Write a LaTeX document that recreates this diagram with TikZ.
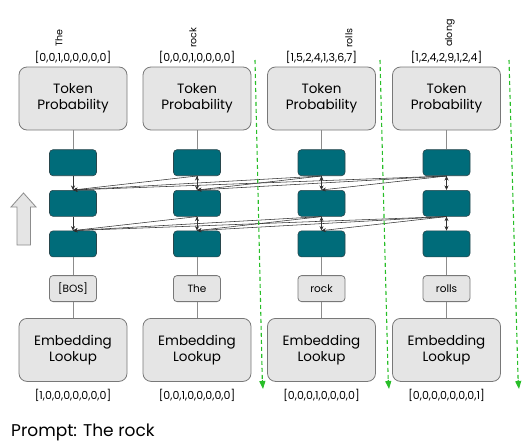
\documentclass[tikz,border=0pt]{standalone}
\usepackage{fontspec}
\setmainfont{Poppins}
\usetikzlibrary{positioning,arrows.meta}
\definecolor{blockfill}{RGB}{0,108,122}
\definecolor{blockline}{RGB}{40,70,76}
\definecolor{boxfill}{RGB}{229,229,229}
\definecolor{boxline}{RGB}{120,120,120}
\definecolor{linkgray}{RGB}{140,140,140}
\definecolor{flowgreen}{RGB}{40,190,40}

\begin{document}
\begin{tikzpicture}[x=1pt,y=-1pt,node distance=14pt,
    bigbox/.style={draw=boxline, fill=boxfill, line width=0.8pt, rounded corners=8pt,
        minimum width=108pt, minimum height=63pt, align=center,
        font=\fontsize{13.5}{16}\selectfont},
    block/.style={draw=blockline, fill=blockfill, line width=0.6pt, rounded corners=3.5pt,
        minimum width=47pt, minimum height=26pt, inner sep=0pt},
    tokbox/.style={draw=boxline, fill=boxfill, line width=0.8pt, rounded corners=3.5pt,
        minimum width=47pt, minimum height=26pt, inner sep=0pt,
        font=\fontsize{10.5}{12}\selectfont},
    vec/.style={inner sep=0pt, font=\fontsize{11}{13}\selectfont},
    word/.style={rotate=90, anchor=west, inner sep=0pt, font=\fontsize{9.5}{11}\selectfont},
    link/.style={draw=linkgray, line width=0.8pt},
    attn/.style={draw=black!80, line width=0.55pt, -{Stealth[length=4.5pt,width=4pt]}},
    flow/.style={draw=flowgreen, line width=1.1pt, dash pattern=on 4pt off 3pt},
    flowtip/.style={draw=flowgreen, fill=flowgreen, line width=1.1pt, solid,
        -{Triangle[length=8pt,width=6pt]}},
    prompt/.style={inner sep=0pt, anchor=west, font=\fontsize{17}{20}\selectfont}]

    \useasboundingbox (0,0) rectangle (532,442);

    % columns
    \node (prob1) [bigbox] at (73,98.5) {Token\\Probability};
    \node (prob2) [bigbox] at (197,98.5) {Token\\Probability};
    \node (prob3) [bigbox] at (321.5,98.5) {Token\\Probability};
    \node (prob4) [bigbox] at (446.5,98.5) {Token\\Probability};

    \node (top1) [block, below=19pt of prob1] {};
    \node (top2) [block, below=19pt of prob2] {};
    \node (top3) [block, below=19pt of prob3] {};
    \node (top4) [block, below=19pt of prob4] {};

    \node (mid1) [block, below=of top1] {};
    \node (mid2) [block, below=of top2] {};
    \node (mid3) [block, below=of top3] {};
    \node (mid4) [block, below=of top4] {};

    \node (low1) [block, below=of mid1] {};
    \node (low2) [block, below=of mid2] {};
    \node (low3) [block, below=of mid3] {};
    \node (low4) [block, below=of mid4] {};

    \node (tok1) [tokbox, below=18pt of low1] {[BOS]};
    \node (tok2) [tokbox, below=18pt of low2] {The};
    \node (tok3) [tokbox, below=18pt of low3] {rock};
    \node (tok4) [tokbox, below=18pt of low4] {rolls};

    \node (embed1) [bigbox, below=16pt of tok1] {Embedding\\Lookup};
    \node (embed2) [bigbox, below=16pt of tok2] {Embedding\\Lookup};
    \node (embed3) [bigbox, below=16pt of tok3] {Embedding\\Lookup};
    \node (embed4) [bigbox, below=16pt of tok4] {Embedding\\Lookup};

    % vectors
    \node (out1) [vec, above=3pt of prob1] {[0,0,1,0,0,0,0,0]};
    \node (out2) [vec, above=3pt of prob2] {[0,0,0,1,0,0,0,0]};
    \node (out3) [vec, above=3pt of prob3] {[1,5,2,4,1,3,6,7]};
    \node (out4) [vec, above=3pt of prob4] {[1,2,4,2,9,1,2,4]};

    \node (in1) [vec, below=7pt of embed1] {[1,0,0,0,0,0,0,0]};
    \node (in2) [vec, below=7pt of embed2] {[0,0,1,0,0,0,0,0]};
    \node (in3) [vec, below=7pt of embed3] {[0,0,0,1,0,0,0,0]};
    \node (in4) [vec, below=7pt of embed4] {[0,0,0,0,0,0,0,1]};

    \node (word1) [word] at (59,47) {The};
    \node (word2) [word] at (193,48) {rock};
    \node (word3) [word] at (349,48) {rolls};
    \node (word4) [word] at (450,47) {along};

    % plain links
    \path[link] (prob1) -- (top1) (low1) -- (tok1) (tok1) -- (embed1);
    \path[link] (prob2) -- (top2) (low2) -- (tok2) (tok2) -- (embed2);
    \path[link] (prob3) -- (top3) (low3) -- (tok3) (tok3) -- (embed3);
    \path[link] (prob4) -- (top4) (low4) -- (tok4) (tok4) -- (embed4);

    % attention
    \path[attn] (top1) edge (mid1);
    \path[attn] (top2.south) edge (mid1.north) edge (mid2.north);
    \path[attn] (top3.south) edge (mid1.north) edge (mid2.north) edge (mid3.north);
    \path[attn] (top4.south) edge (mid1.north) edge (mid2.north) edge (mid3.north) edge (mid4.north);

    \path[attn] (mid1) edge (low1);
    \path[attn] (mid2.south) edge (low1.north) edge (low2.north);
    \path[attn] (mid3.south) edge (low1.north) edge (low2.north) edge (low3.north);
    \path[attn] (mid4.south) edge (low1.north) edge (low2.north) edge (low3.north) edge (low4.north);

    % generation steps
    \coordinate (g1s) at (255,60);
    \coordinate (g1t) at (262.3,380);
    \coordinate (g1e) at (263,389);
    \coordinate (g2s) at (380,60);
    \coordinate (g2t) at (388.2,380);
    \coordinate (g2e) at (389,389);
    \coordinate (g3s) at (509,60);
    \coordinate (g3t) at (518.1,380);
    \coordinate (g3e) at (519,389);
    \draw[flow] (g1s) -- (g1t);
    \draw[flow] (g2s) -- (g2t);
    \draw[flow] (g3s) -- (g3t);
    \draw[flowtip] (g1t) -- (g1e);
    \draw[flowtip] (g2t) -- (g2e);
    \draw[flowtip] (g3t) -- (g3e);

    % upward direction
    \draw[draw=linkgray, fill=boxfill, line width=0.8pt]
        (17,245) -- (17,207) -- (11,207) -- (23.5,193) -- (36,207) -- (30.5,207) -- (30.5,245) -- cycle;

    \node (prompt) [prompt] at (11,432) {Prompt: The rock};
\end{tikzpicture}
\end{document}
